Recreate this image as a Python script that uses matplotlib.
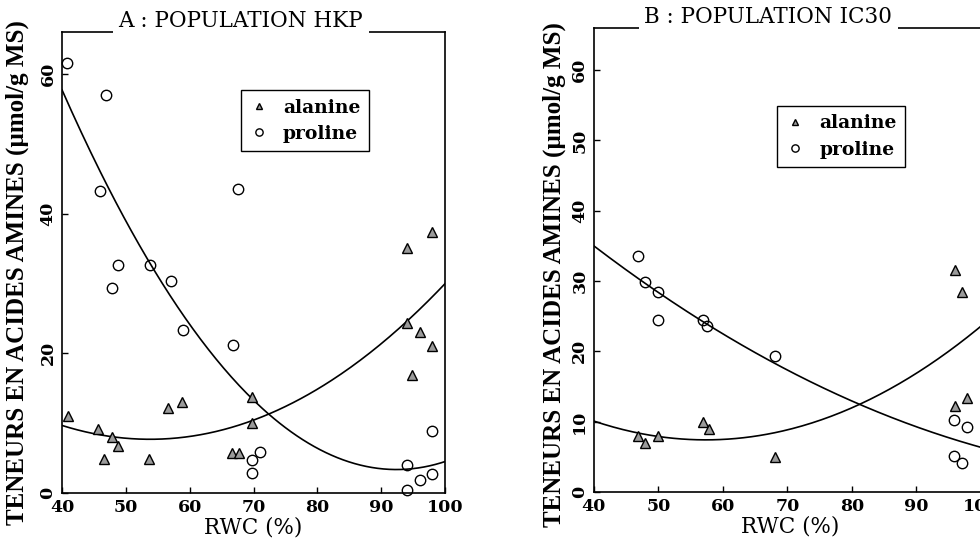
import numpy as np
import matplotlib
matplotlib.use('Agg')
import matplotlib.pyplot as plt

# ── Données ───────────────────────────────────────────────────────────────────
# A : population HKP
a_ala_rwc = [41, 45.6, 47.8, 48.8, 46.6, 53.6, 56.6, 58.8, 66.6, 67.7, 69.8, 69.8,
             94.1, 94.1, 96.1, 98, 94.9, 98]
a_ala_val = [11, 9.1, 8, 6.7, 4.9, 4.9, 12.1, 13, 5.7, 5.7, 10, 13.7,
             35.1, 24.3, 23, 21, 16.9, 37.3]
a_pro_rwc = [40.8, 46.9, 46, 67.6, 48.8, 53.8, 57, 47.8, 59, 66.8, 69.8, 71, 69.8,
             98, 94.1, 94.1, 96.1, 98]
a_pro_val = [61.5, 57, 43.3, 43.5, 32.6, 32.6, 30.4, 29.3, 23.4, 21.2, 4.7, 5.9, 2.9,
             8.9, 4.0, 0.4, 1.9, 2.7]

# B : population IC30
b_ala_rwc = [46.8, 47.9, 49.9, 56.9, 57.8, 68.1, 96, 97.1, 97.8, 96]
b_ala_val = [8, 7, 8, 10, 9, 5, 31.6, 28.4, 13.3, 12.3]
b_pro_rwc = [46.8, 47.9, 49.9, 49.9, 56.9, 57.5, 68.1, 95.8, 97.8, 95.8, 97.1]
b_pro_val = [33.6, 29.8, 28.4, 24.4, 24.4, 23.6, 19.4, 10.3, 9.3, 5.1, 4.1]

X_TICKS = [40, 50, 60, 70, 80, 90, 100]
A_YTICKS = [0, 20, 40, 60]
B_YTICKS = [0, 10, 20, 30, 40, 50, 60]

WIDE = ['DejaVu Serif']
NARROW = ['Liberation Serif', 'DejaVu Serif']
plt.rcParams['font.family'] = WIDE
plt.rcParams['xtick.direction'] = 'in'
plt.rcParams['ytick.direction'] = 'in'

YLABEL = 'TENEURS EN ACIDES AMINES (\u00b5mol/g MS)'

fig = plt.figure(figsize=(9.8, 5.48), dpi=100)
ax_a = fig.add_axes([0.0633, 0.1004, 0.3908, 0.8412])
ax_b = fig.add_axes([0.606, 0.1022, 0.395, 0.8468])


def panel(ax, ala_x, ala_y, pro_x, pro_y, yticks, title, title_x, title_y,
          ylab_x, ylab_y, xlab_x, leg_anchor):
    ax.plot(ala_x, ala_y, ls='none', marker='^', ms=7, mfc='#9a9a9a', mec='black',
            mew=1.0, label='alanine', clip_on=False, zorder=3)
    ax.plot(pro_x, pro_y, ls='none', marker='o', ms=7.5, mfc='none', mec='black',
            mew=1.0, label='proline', clip_on=False, zorder=3)

    # courbes de régression (polynôme d'ordre 2)
    xs = np.linspace(40, 100, 200)
    for xv, yv in [(ala_x, ala_y), (pro_x, pro_y)]:
        c = np.polyfit(xv, yv, 2)
        ax.plot(xs, np.polyval(c, xs), color='black', lw=1.2, zorder=2)

    ax.set_xlim(40, 100)
    ax.set_ylim(0, 66)
    ax.set_xticks(X_TICKS)
    ax.set_yticks(yticks)
    ax.tick_params(length=4, width=1, labelsize=12.5, pad=4)
    for lab in ax.get_xticklabels():
        lab.set_fontweight('bold')
    for lab in ax.get_yticklabels():
        lab.set_fontweight('bold')
        lab.set_rotation(90)
        lab.set_va('center')
    for sp in ax.spines.values():
        sp.set_linewidth(1.2)

    ax.set_ylabel(YLABEL, fontsize=18, fontweight='bold', family=NARROW)
    ax.yaxis.set_label_coords(ylab_x, ylab_y)
    ax.set_xlabel('RWC (%)', fontsize=15.5)
    ax.xaxis.set_label_coords(xlab_x, -0.05)

    ax.text(title_x, title_y, title, transform=ax.transAxes, ha='center', va='bottom',
            fontsize=15.5, bbox=dict(facecolor='white', edgecolor='none', pad=4),
            zorder=10)

    leg = ax.legend(loc='upper left', bbox_to_anchor=leg_anchor, borderaxespad=0,
                    frameon=True, fancybox=False, edgecolor='black', framealpha=1,
                    prop={'family': WIDE, 'size': 13.5, 'weight': 'bold'},
                    handletextpad=0.8, handlelength=1.0, borderpad=0.45,
                    labelspacing=0.45, markerscale=0.7)
    leg.get_frame().set_linewidth(1.0)


panel(ax_a, a_ala_rwc, a_ala_val, a_pro_rwc, a_pro_val, A_YTICKS,
      'A : POPULATION HKP', 0.467, 1.0, -0.086, 0.478, 0.5, (0.467, 0.874))
panel(ax_b, b_ala_rwc, b_ala_val, b_pro_rwc, b_pro_val, B_YTICKS,
      'B : POPULATION IC30', 0.45, 1.0, -0.072, 0.468, 0.506, (0.473, 0.832))

fig.savefig('out.png', dpi=100)
